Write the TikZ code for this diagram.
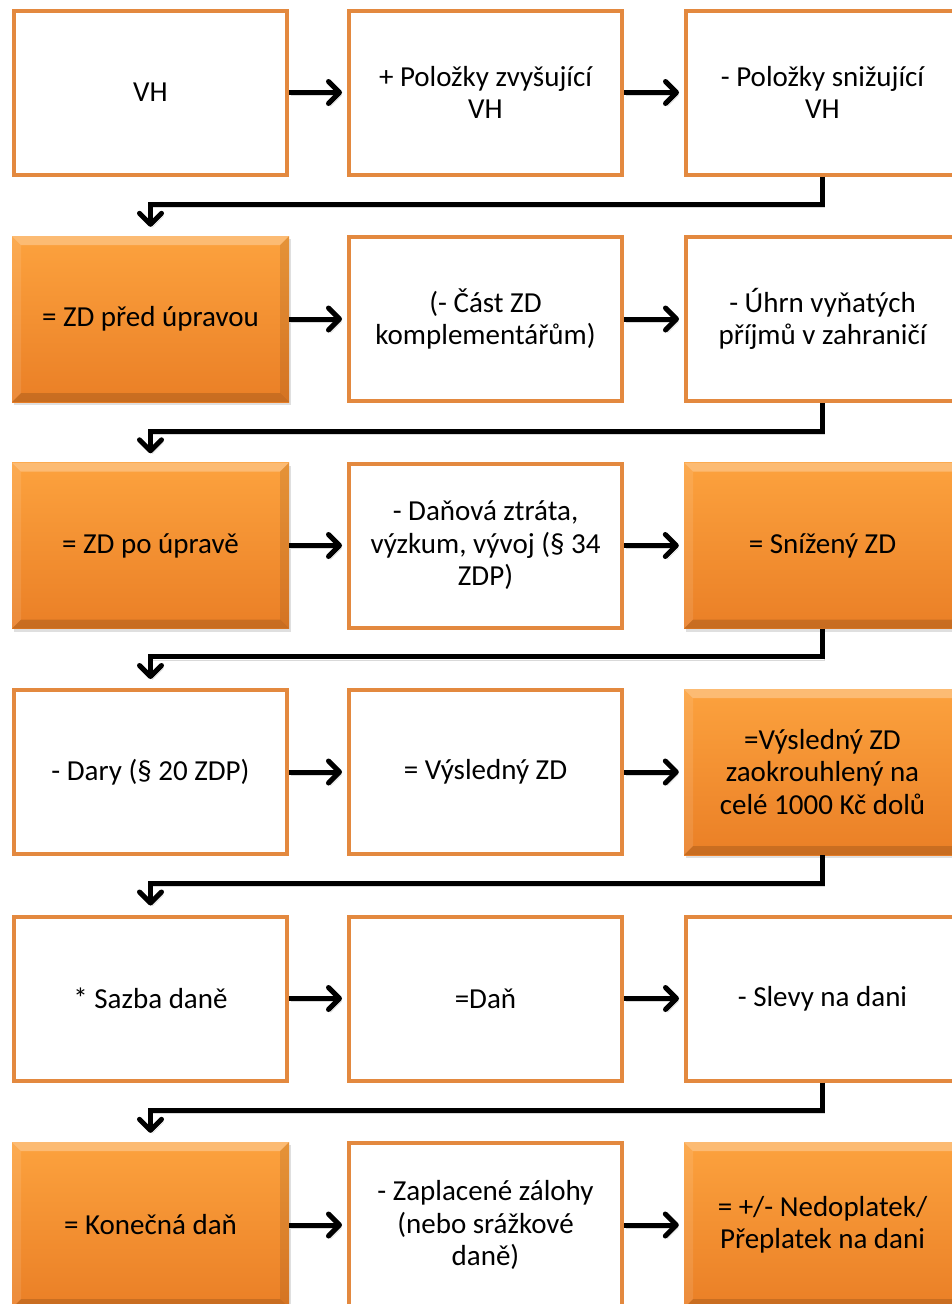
\documentclass[tikz,border=0pt]{standalone}
\usepackage{fontspec}
\setmainfont{Carlito}
\usetikzlibrary{arrows.meta,shadows,calc}
\definecolor{obrd}{RGB}{227,137,63}
\definecolor{otop}{RGB}{252,162,62}
\definecolor{obot}{RGB}{234,127,38}
\tikzset{
  base/.style={rectangle, minimum width=273pt, minimum height=164pt, align=center, inner sep=2pt,
     font=\fontsize{29}{32.5}\selectfont, text=black},
  wbox/.style={base, draw=obrd, line width=4pt, fill=white},
  obox/.style={base, minimum width=277pt, minimum height=166pt, top color=otop, bottom color=obot, draw=none,
     drop shadow={shadow xshift=2pt, shadow yshift=-3pt, opacity=0.25},
     path picture={
       \coordinate (NW) at (path picture bounding box.north west);
       \coordinate (NE) at (path picture bounding box.north east);
       \coordinate (SW) at (path picture bounding box.south west);
       \coordinate (SE) at (path picture bounding box.south east);
       \fill[white,opacity=0.28] (NW) -- (NE) -- ([shift={(-9pt,-9pt)}]NE) -- ([shift={(9pt,-9pt)}]NW) -- cycle;
       \fill[white,opacity=0.10] (NW) -- ([shift={(9pt,-9pt)}]NW) -- ([shift={(9pt,9pt)}]SW) -- (SW) -- cycle;
       \fill[black,opacity=0.09] (NE) -- ([shift={(-9pt,-9pt)}]NE) -- ([shift={(-9pt,9pt)}]SE) -- (SE) -- cycle;
       \fill[black,opacity=0.14] (SW) -- ([shift={(9pt,9pt)}]SW) -- ([shift={(-9pt,9pt)}]SE) -- (SE) -- cycle;
     }},
  conn/.style={line width=5pt, draw=black, line join=miter,
     -{Straight Barb[length=11pt,width=22pt,round]},
     preaction={draw=black, opacity=0.15, transform canvas={shift={(2pt,-3pt)}}}},
}
\begin{document}
\begin{tikzpicture}[x=1pt,y=-1pt]
\useasboundingbox (0,0) rectangle (952,1304);
\clip (0,0) rectangle (952,1304);
% row 1
\node[wbox] (r1c1) at (150.5,92.5) {VH};
\node[wbox] (r1c2) at (485.5,92.5) {+ Položky zvyšující\\VH};
\node[wbox] (r1c3) at (822.5,92.5) {- Položky snižující\\VH};
% row 2
\node[obox] (r2c1) at (150.5,319) {= ZD před úpravou};
\node[wbox] (r2c2) at (485.5,319) {(- Část ZD\\komplementářům)};
\node[wbox] (r2c3) at (822.5,319) {- Úhrn vyňatých\\příjmů v zahraničí};
% row 3
\node[obox] (r3c1) at (150.5,545.5) {= ZD po úpravě};
\node[wbox] (r3c2) at (485.5,545.5) {- Daňová ztráta,\\výzkum, vývoj (§ 34\\ZDP)};
\node[obox] (r3c3) at (822.5,545.5) {= Snížený ZD};
% row 4
\node[wbox] (r4c1) at (150.5,772) {- Dary (§ 20 ZDP)};
\node[wbox] (r4c2) at (485.5,772) {= Výsledný ZD};
\node[obox] (r4c3) at (822.5,772) {=Výsledný ZD\\zaokrouhlený na\\celé 1000 Kč dolů};
% row 5
\node[wbox] (r5c1) at (150.5,998.5) {* Sazba daně};
\node[wbox] (r5c2) at (485.5,998.5) {=Daň};
\node[wbox] (r5c3) at (822.5,998.5) {- Slevy na dani};
% row 6
\node[obox] (r6c1) at (150.5,1225) {= Konečná daň};
\node[wbox] (r6c2) at (485.5,1225) {- Zaplacené zálohy\\(nebo srážkové\\daně)};
\node[obox] (r6c3) at (822.5,1225) {= +/- Nedoplatek/\\Přeplatek na dani};
% horizontal connectors
\foreach \r in {1,...,6}{
  \draw[conn, shorten >=5pt] (r\r c1.east) -- (r\r c2.west);
  \draw[conn, shorten >=5pt] (r\r c2.east) -- (r\r c3.west);
}
% turn connectors
\foreach \r/\n in {1/2,2/3,3/4,4/5,5/6}{
  \draw[conn, shorten >=9pt] (r\r c3.south) -- ++(0,28) -| (r\n c1.north);
}
\end{tikzpicture}
\end{document}
